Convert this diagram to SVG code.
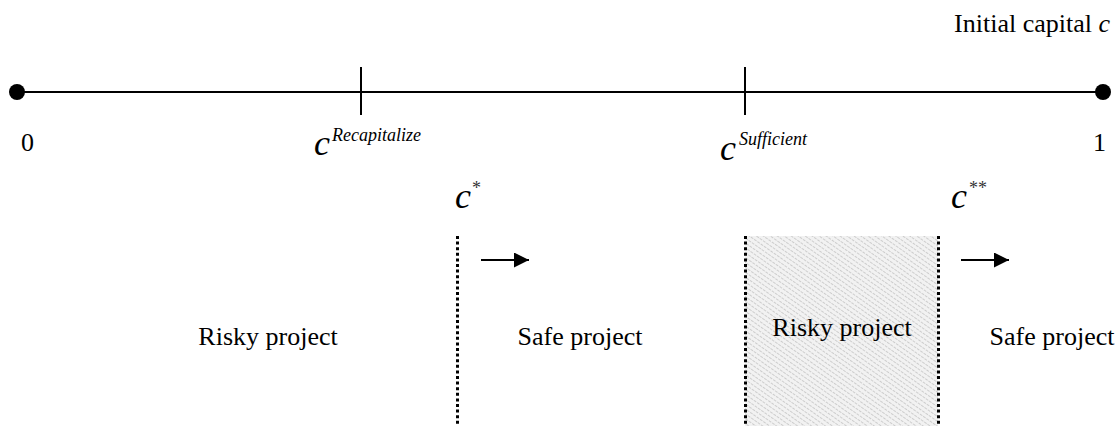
<svg xmlns="http://www.w3.org/2000/svg" width="1119" height="426" viewBox="0 0 1119 426">
<style>
text{font-family:"Liberation Serif","Times New Roman",serif;fill:#000}
.lbl{font-size:26px}
.it{font-style:italic}
.cv{font-style:italic;font-size:36px}
.sup{font-style:italic;font-size:18px}
.ast{font-size:18px;fill:#333}
.dot{stroke:#000;stroke-width:3;stroke-dasharray:3 2.6;fill:none}
.ln{stroke:#000;stroke-width:2;fill:none}
</style>
<defs>
<pattern id="hatch" width="4" height="4" patternUnits="userSpaceOnUse" patternTransform="rotate(-55)">
<rect width="4" height="4" fill="#f2f2f2"/>
<line x1="0" y1="0" x2="0" y2="4" stroke="#a8a8a8" stroke-width="1" stroke-dasharray="2 1"/>
</pattern>
<marker id="ah" markerWidth="16" markerHeight="16" refX="15" refY="7.5" orient="auto" markerUnits="userSpaceOnUse">
<path d="M0,0 L15,7.5 L0,15 z" fill="#000"/>
</marker>
</defs>
<g id="axis">
<line class="ln" x1="17" y1="92" x2="1103" y2="92"/>
<circle cx="17" cy="92" r="8" fill="#000"/>
<circle cx="1103" cy="92" r="8" fill="#000"/>
<line class="ln" x1="361" y1="67" x2="361" y2="115"/>
<line class="ln" x1="745" y1="67" x2="745" y2="115"/>
<text class="lbl" x="1110" y="32" text-anchor="end">Initial capital <tspan class="it">c</tspan></text>
<text class="lbl" x="21" y="151">0</text>
<text class="lbl" x="1093" y="151">1</text>
<text x="314" y="155" class="cv">c</text>
<text x="332" y="141" class="sup">Recapitalize</text>
<text x="720" y="160" class="cv">c</text>
<text x="739" y="145" class="sup">Sufficient</text>
</g>
<g id="threshold-cstar">
<text x="455" y="208" class="cv">c</text>
<text x="472" y="194" class="ast">*</text>
<line class="dot" x1="457.5" y1="236" x2="457.5" y2="426"/>
</g>
<g id="threshold-cstarstar">
<text x="951" y="208" class="cv">c</text>
<text x="969" y="194" class="ast">**</text>
</g>
<g id="risky-shaded">
<rect x="745" y="236" width="193" height="190" fill="url(#hatch)"/>
<line class="dot" x1="745.5" y1="236" x2="745.5" y2="426"/>
<line class="dot" x1="938.5" y1="236" x2="938.5" y2="426"/>
<text class="lbl" x="842" y="336" text-anchor="middle">Risky project</text>
</g>
<g id="risky-left"><text class="lbl" x="268" y="345" text-anchor="middle">Risky project</text></g>
<g id="safe-mid"><text class="lbl" x="580" y="345" text-anchor="middle">Safe project</text></g>
<g id="safe-right"><text class="lbl" x="1052" y="345" text-anchor="middle">Safe project</text></g>
<g id="connectors">
<line class="ln" x1="481" y1="260" x2="529" y2="260" marker-end="url(#ah)"/>
<line class="ln" x1="961" y1="260" x2="1009" y2="260" marker-end="url(#ah)"/>
</g>
</svg>
